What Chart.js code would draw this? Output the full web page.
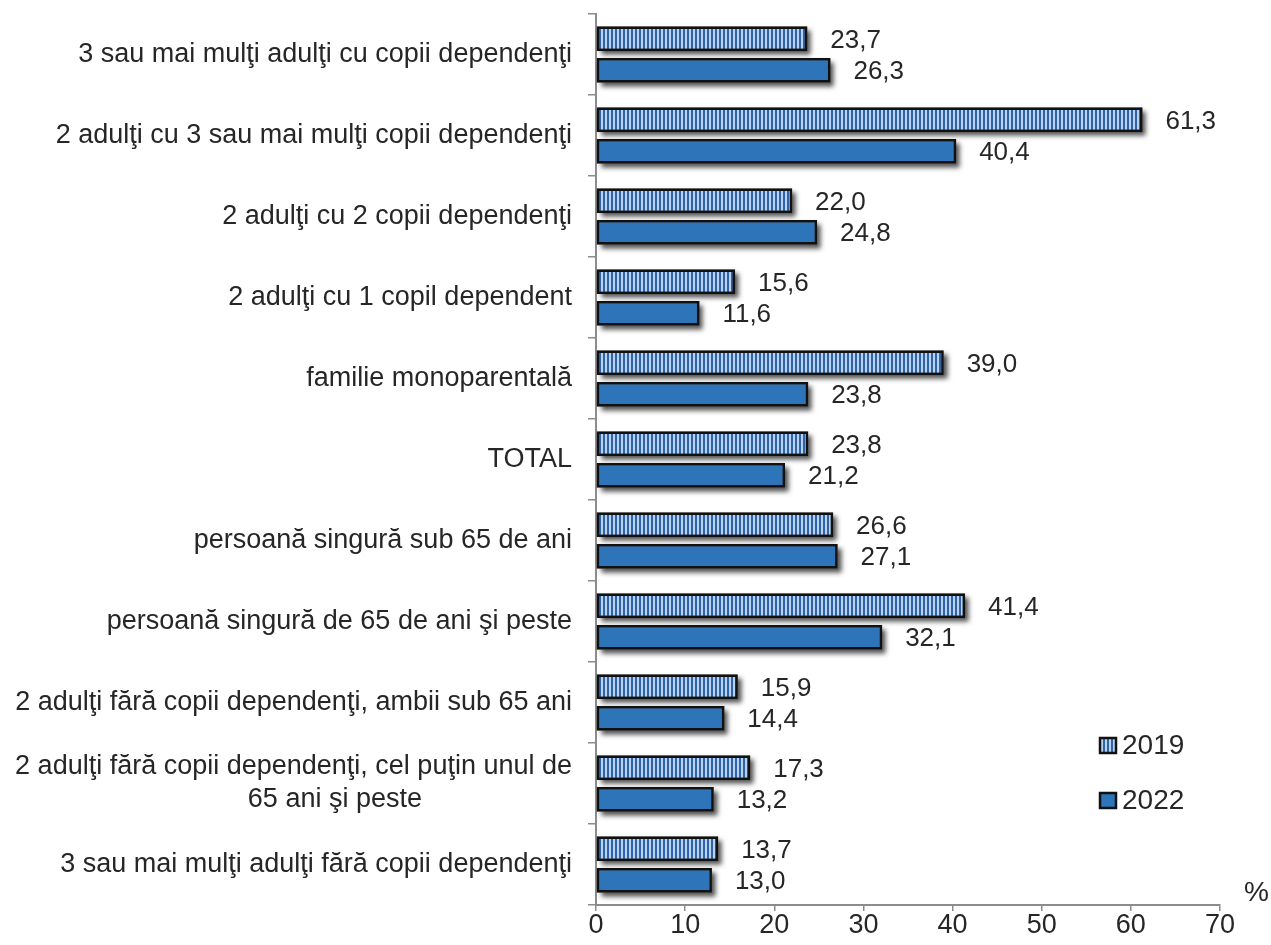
<!DOCTYPE html>
<html>
<head>
<meta charset="utf-8">
<script src="https://cdn.jsdelivr.net/npm/chart.js@4.4.0/dist/chart.umd.min.js"></script>
<style>
    html, body { margin: 0; padding: 0; background: #fff; }
    #wrap { width: 1271px; height: 945px; position: relative; }
</style>
</head>
<body>
<div id="wrap"><canvas id="povertyChart" width="1271" height="945"></canvas></div>
<script>
// Categories, top to bottom
const categories = [
    '3 sau mai mulţi adulţi cu copii dependenţi',
    '2 adulţi cu 3 sau mai mulţi copii dependenţi',
    '2 adulţi cu 2 copii dependenţi',
    '2 adulţi cu 1 copil dependent',
    'familie monoparentală',
    'TOTAL',
    'persoană singură sub 65 de ani',
    'persoană singură de 65 de ani şi peste',
    '2 adulţi fără copii dependenţi, ambii sub 65 ani',
    ['2 adulţi fără copii dependenţi, cel puţin unul de', '65 ani şi peste' + '\u00a0'.repeat(20)],
    '3 sau mai mulţi adulţi fără copii dependenţi'
];
const values2019 = [23.7, 61.3, 22.0, 15.6, 39.0, 23.8, 26.6, 41.4, 15.9, 17.3, 13.7];
const values2022 = [26.3, 40.4, 24.8, 11.6, 23.8, 21.2, 27.1, 32.1, 14.4, 13.2, 13.0];
const seriesNames = ['2019', '2022'];
const xTicks = [0, 10, 20, 30, 40, 50, 60, 70];

const FONT = "'Liberation Sans', Arial, sans-serif";
const TEXT = '#262626';

// vertical striped fill for 2019
function makeStripes() {
    const c = document.createElement('canvas');
    c.width = 4; c.height = 4;
    const g = c.getContext('2d');
    g.fillStyle = '#2f62a8';
    g.fillRect(0, 0, 4, 4);
    g.fillStyle = '#b8d3f2';
    g.fillRect(1, 0, 2, 4);
    return g.createPattern(c, 'repeat');
}
const stripes = makeStripes();
const solidBlue = '#2e74b8';

// bar elements clip to their own box, so the drop shadow is painted underneath first
const shadowPlugin = {
    id: 'barShadow',
    beforeDatasetsDraw(chart) {
        const ctx = chart.ctx;
        ctx.save();
        ctx.shadowColor = 'rgba(0,0,0,0.7)';
        ctx.shadowBlur = 5;
        ctx.shadowOffsetX = 4;
        ctx.shadowOffsetY = 4;
        ctx.fillStyle = '#444';
        chart.data.datasets.forEach((ds, i) => {
            chart.getDatasetMeta(i).data.forEach(bar => {
                const p = bar.getProps(['x', 'y', 'base', 'height'], true);
                ctx.fillRect(p.base, p.y - p.height / 2, p.x - p.base, p.height);
            });
        });
        ctx.restore();
    }
};

// value labels, legend and the % unit
const extrasPlugin = {
    id: 'extras',
    afterDraw(chart) {
        const ctx = chart.ctx;
        ctx.save();
        ctx.fillStyle = TEXT;
        ctx.font = '26px ' + FONT;
        ctx.textBaseline = 'middle';
        ctx.textAlign = 'left';
        chart.data.datasets.forEach((ds, i) => {
            chart.getDatasetMeta(i).data.forEach((bar, j) => {
                const txt = ds.data[j].toFixed(1).replace('.', ',');
                ctx.fillText(txt, bar.x + 23, bar.y + 2);
            });
        });

        // legend
        const lx = 1100, ly = [745, 800];
        ctx.font = '28px ' + FONT;
        chart.data.datasets.forEach((ds, i) => {
            ctx.fillStyle = ds.backgroundColor;
            ctx.fillRect(lx, ly[i] - 7, 16, 15);
            ctx.lineWidth = 2.5;
            ctx.strokeStyle = '#111';
            ctx.strokeRect(lx, ly[i] - 7, 16, 15);
            ctx.fillStyle = TEXT;
            ctx.fillText(ds.label, lx + 22, ly[i] + 1);
        });

        // unit
        ctx.fillText('%', 1244, 893);
        ctx.restore();
    }
};

const ctxChart = document.getElementById('povertyChart');
new Chart(ctxChart, {
    type: 'bar',
    data: {
        labels: categories,
        datasets: [{
            label: seriesNames[0],
            data: values2019,
            backgroundColor: stripes,
            borderColor: '#111',
            borderWidth: 2.5,
            borderSkipped: false
        }, {
            label: seriesNames[1],
            data: values2022,
            backgroundColor: solidBlue,
            borderColor: '#111',
            borderWidth: 2.5,
            borderSkipped: false
        }]
    },
    plugins: [shadowPlugin, extrasPlugin],
    options: {
        indexAxis: 'y',
        responsive: false,
        animation: false,
        datasets: {
            bar: {
                categoryPercentage: 0.78,
                barPercentage: 0.78
            }
        },
        layout: {
            padding: { left: 0, right: 51, top: 14, bottom: 0 }
        },
        scales: {
            x: {
                min: 0,
                max: 70,
                afterBuildTicks(scale) {
                    scale.ticks = xTicks.map(v => ({ value: v }));
                },
                afterFit(scale) {
                    scale.height = 40;
                    scale.paddingLeft = 0;
                    scale.paddingRight = 0;
                },
                grid: {
                    drawOnChartArea: false,
                    drawTicks: true,
                    tickLength: 6,
                    color: '#8c8c8c',
                    lineWidth: 1.5
                },
                border: { color: '#8c8c8c', width: 2 },
                ticks: {
                    color: TEXT,
                    font: { family: FONT, size: 27 },
                    padding: -2,
                    maxRotation: 0
                }
            },
            y: {
                afterFit(scale) {
                    scale.width = 596;
                    scale.paddingTop = 0;
                    scale.paddingBottom = 0;
                },
                grid: {
                    drawOnChartArea: false,
                    drawTicks: true,
                    tickLength: 8,
                    color: '#8c8c8c',
                    lineWidth: 1.5
                },
                border: { color: '#8c8c8c', width: 2 },
                ticks: {
                    color: TEXT,
                    font: { family: FONT, size: 27, lineHeight: 1.22 },
                    padding: 16,
                    autoSkip: false
                }
            }
        },
        plugins: {
            legend: { display: false },
            tooltip: { enabled: false }
        }
    }
});
</script>
</body>
</html>
